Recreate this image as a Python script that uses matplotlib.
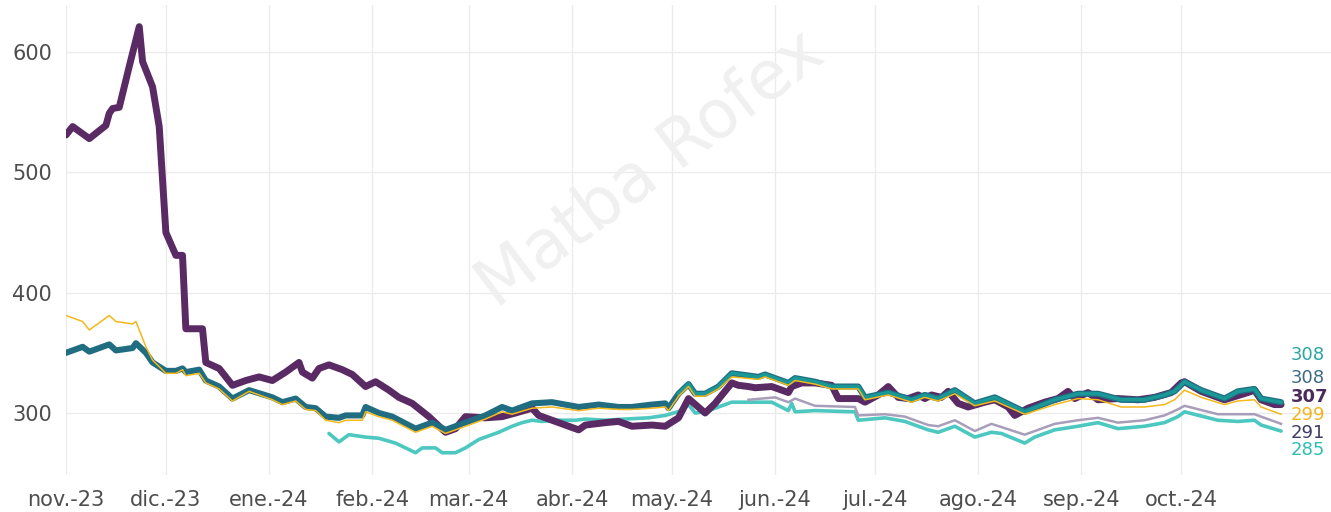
import matplotlib
matplotlib.use("Agg")
import matplotlib.pyplot as plt
import pandas as pd

plt.rcParams['font.family'] = ['DejaVu Sans']

# ---------------- data ----------------
purple_dates = ["2023-11-01","2023-11-03","2023-11-08","2023-11-13","2023-11-14","2023-11-15","2023-11-17",
    "2023-11-20","2023-11-23","2023-11-24","2023-11-27","2023-11-29","2023-12-01","2023-12-04","2023-12-06",
    "2023-12-07","2023-12-12","2023-12-13","2023-12-17","2023-12-21","2023-12-25","2023-12-29","2024-01-02",
    "2024-01-06","2024-01-10","2024-01-11","2024-01-14","2024-01-16","2024-01-19","2024-01-23","2024-01-26",
    "2024-01-30","2024-02-02","2024-02-06","2024-02-09","2024-02-13","2024-02-18","2024-02-23","2024-02-26",
    "2024-02-29","2024-03-06","2024-03-11","2024-03-15","2024-03-20","2024-03-22","2024-03-28","2024-04-03",
    "2024-04-05","2024-04-11","2024-04-15","2024-04-19","2024-04-25","2024-04-29","2024-05-03","2024-05-06",
    "2024-05-11","2024-05-14","2024-05-19","2024-05-21","2024-05-24","2024-05-26","2024-05-31","2024-06-05",
    "2024-06-06","2024-06-09","2024-06-13","2024-06-18","2024-06-20","2024-06-26","2024-06-28","2024-07-02",
    "2024-07-05","2024-07-08","2024-07-11","2024-07-14","2024-07-16","2024-07-18","2024-07-21","2024-07-23",
    "2024-07-26","2024-07-29","2024-08-03","2024-08-06","2024-08-10","2024-08-12","2024-08-16","2024-08-21",
    "2024-08-25","2024-08-28","2024-08-30","2024-09-03","2024-09-06","2024-09-12","2024-09-18","2024-09-23",
    "2024-09-28","2024-10-01","2024-10-02","2024-10-07","2024-10-14","2024-10-21","2024-10-23","2024-10-25",
    "2024-10-29","2024-10-31"]
purple_vals = [531,538,528,539,549,553,554,588,621,592,571,538,450,431,431,
    370,370,342,337,323,327,330,327,334,342,334,329,337,340,336,332,
    322,326,319,313,308,297,284,287,297,296,297,300,304,298,292,286,
    290,292,293,289,290,289,296,312,300,308,325,323,322,321,322,317,
    322,325,325,323,312,312,309,315,322,313,312,315,312,315,313,318,
    308,305,309,311,305,298,304,309,312,318,312,317,311,312,311,313,
    317,325,326,318,311,317,319,311,307,307]

teal_dark_dates = ["2023-11-01","2023-11-06","2023-11-08","2023-11-14","2023-11-16","2023-11-21","2023-11-22",
    "2023-11-25","2023-11-27","2023-12-01","2023-12-04","2023-12-06","2023-12-07","2023-12-11","2023-12-13",
    "2023-12-17","2023-12-21","2023-12-26","2024-01-02","2024-01-05","2024-01-09","2024-01-12","2024-01-15",
    "2024-01-18","2024-01-22","2024-01-24","2024-01-29","2024-01-30","2024-02-03","2024-02-07","2024-02-14",
    "2024-02-19","2024-02-23","2024-02-29","2024-03-06","2024-03-11","2024-03-14","2024-03-20","2024-03-26",
    "2024-04-03","2024-04-09","2024-04-15","2024-04-19","2024-04-25","2024-04-29","2024-04-30","2024-05-03",
    "2024-05-06","2024-05-08","2024-05-11","2024-05-15","2024-05-19","2024-05-27","2024-05-29","2024-06-05",
    "2024-06-07","2024-06-13","2024-06-18","2024-06-26","2024-06-28","2024-07-05","2024-07-12","2024-07-16",
    "2024-07-20","2024-07-25","2024-07-31","2024-08-06","2024-08-15","2024-08-24","2024-08-31","2024-09-06",
    "2024-09-13","2024-09-20","2024-09-26","2024-09-29","2024-10-02","2024-10-07","2024-10-14","2024-10-18",
    "2024-10-23","2024-10-25","2024-10-31"]
teal_dark_vals = [350,355,351,357,352,354,358,350,342,335,335,337,334,336,327,
    322,312,319,313,309,312,305,304,297,296,298,298,305,300,297,287,
    292,286,292,298,305,302,308,309,305,307,305,305,307,308,304,316,
    324,316,316,322,333,330,332,325,329,326,322,322,313,317,311,315,
    312,319,308,313,301,311,316,316,311,311,315,318,326,319,312,318,
    320,312,309]

yellow_vals = [381,376,369,381,376,374,376,355,344,333,333,336,331,333,325,
    320,310,318,311,307,310,303,302,294,292,294,294,301,297,294,284,
    289,283,289,295,301,299,304,305,302,304,303,303,304,305,302,314,
    322,314,314,320,330,328,330,323,327,324,320,320,311,315,309,313,
    310,316,306,310,299,307,312,311,305,305,307,311,319,313,307,310,
    311,305,299]

teal_start = "2024-05-03"   # second (lighter) teal series overlaps the dark one from here

aqua_dates = ["2024-01-19","2024-01-22","2024-01-25","2024-01-30","2024-02-03","2024-02-08","2024-02-14",
    "2024-02-16","2024-02-20","2024-02-22","2024-02-26","2024-02-29","2024-03-04","2024-03-10","2024-03-14",
    "2024-03-17","2024-03-20","2024-03-23","2024-03-27","2024-04-02","2024-04-05","2024-04-11","2024-04-17",
    "2024-04-24","2024-04-29","2024-05-04","2024-05-06","2024-05-08","2024-05-11","2024-05-17","2024-05-19",
    "2024-05-31","2024-06-05","2024-06-06","2024-06-07","2024-06-13","2024-06-25","2024-06-26","2024-07-04",
    "2024-07-10","2024-07-17","2024-07-20","2024-07-23","2024-07-25","2024-07-31","2024-08-05","2024-08-08",
    "2024-08-15","2024-08-18","2024-08-24","2024-08-31","2024-09-06","2024-09-12","2024-09-20","2024-09-26",
    "2024-09-30","2024-10-02","2024-10-12","2024-10-18","2024-10-23","2024-10-25","2024-10-31"]
aqua_vals = [283,276,282,280,279,275,267,271,271,267,267,271,278,284,289,
    292,294,293,294,294,295,294,295,296,298,302,307,300,301,307,309,
    309,302,308,301,302,301,294,296,293,286,284,287,289,280,284,283,
    275,280,286,289,292,287,289,292,297,301,294,293,294,290,285]

grey_dates = ["2024-05-24","2024-05-28","2024-06-01","2024-06-05","2024-06-07","2024-06-13","2024-06-25",
    "2024-06-26","2024-07-04","2024-07-10","2024-07-17","2024-07-20","2024-07-25","2024-07-31","2024-08-05",
    "2024-08-15","2024-08-24","2024-08-31","2024-09-06","2024-09-12","2024-09-20","2024-09-26","2024-09-30",
    "2024-10-02","2024-10-12","2024-10-23","2024-10-25","2024-10-31"]
grey_vals = [311,312,313,309,312,306,305,298,299,297,290,289,294,285,291,
    282,291,294,296,292,294,298,303,306,299,299,297,291]

end_labels = ["308", "308", "307", "299", "291", "285"]
end_label_colors = ["#2BA6A0", "#3C6B85", "#4A2B5E", "#F5B324", "#3F3B66", "#2FBDB2"]
end_label_y = [348, 329, 313, 298, 283, 269]
end_label_bold = [False, False, True, False, False, False]

month_ticks = pd.date_range("2023-11-01", "2024-10-01", freq="MS")
month_labels = ["nov.-23", "dic.-23", "ene.-24", "feb.-24", "mar.-24", "abr.-24",
                "may.-24", "jun.-24", "jul.-24", "ago.-24", "sep.-24", "oct.-24"]
y_ticks = [300, 400, 500, 600]

# ---------------- plot ----------------
W, H = 1331, 512
fig = plt.figure(figsize=(W / 100, H / 100), dpi=100)
ax = fig.add_axes([66 / W, 37 / H, 1 - 66 / W, (475 - 5) / H])

pdates = pd.to_datetime(purple_dates)
tdates = pd.to_datetime(teal_dark_dates)
adates = pd.to_datetime(aqua_dates)
gdates = pd.to_datetime(grey_dates)
mask = tdates >= pd.Timestamp(teal_start)

ax.plot(adates, aqua_vals, color="#4CC8C0", lw=2.6, solid_capstyle="round", zorder=3)
ax.plot(gdates, grey_vals, color="#A99EBA", lw=1.8, zorder=3)
ax.plot(pdates, purple_vals, color="#5A2A64", lw=5.0, solid_joinstyle="round",
        solid_capstyle="round", zorder=4)
ax.plot(tdates, teal_dark_vals, color="#206D82", lw=4.4, solid_joinstyle="round",
        solid_capstyle="round", zorder=5)
ax.plot(tdates[mask], [v for v, m in zip(teal_dark_vals, mask) if m], color="#1A9897",
        lw=2.6, solid_joinstyle="round", zorder=6)
ax.plot(tdates, yellow_vals, color="#F4B81A", lw=1.1, zorder=7)

# end labels
xlab = pd.Timestamp("2024-11-03")
for txt, col, yv, b in zip(end_labels, end_label_colors, end_label_y, end_label_bold):
    ax.text(xlab, yv, txt, color=col, fontsize=13, ha="left", va="center",
            fontweight="bold" if b else "normal", zorder=8)

# watermark
ax.text(0.462, 0.65, "Matba Rofex", transform=ax.transAxes, fontsize=48,
        color="#F0F0F0", rotation=37, ha="center", va="center", zorder=1)

ax.set_xlim(pd.Timestamp("2023-11-01"), pd.Timestamp("2024-11-15"))
ax.set_ylim(248.5, 639)
ax.set_xticks(month_ticks)
ax.set_xticklabels(month_labels)
ax.set_yticks(y_ticks)
ax.tick_params(axis="both", length=0, labelsize=15, labelcolor="#4D4D4D")
ax.tick_params(axis="x", pad=11)
ax.tick_params(axis="y", pad=10)
ax.grid(True, color="#EBEBEB", lw=1.0, zorder=0)
ax.set_axisbelow(True)
for s in ax.spines.values():
    s.set_visible(False)

fig.savefig("out.png", dpi=100, facecolor="white")
